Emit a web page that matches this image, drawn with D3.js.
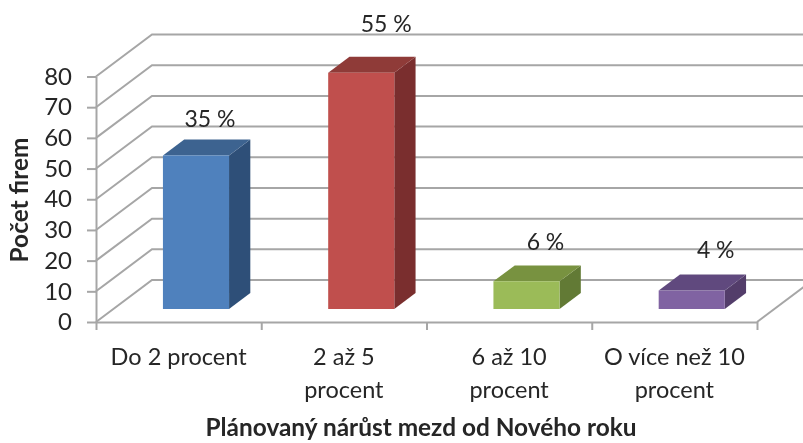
<!DOCTYPE html>
<html>
<head>
<meta charset="utf-8">
<script src="https://cdn.jsdelivr.net/npm/d3@7"></script>
<style>
    html, body { margin: 0; background: #fff; }
    text { font-family: Lato, "Open Sans", sans-serif; fill: #262626; }
</style>
</head>
<body>
<div class="chart"></div>
<script>
const categories = ["Do 2 procent", "2 až 5 procent", "6 až 10 procent", "O více než 10 procent"];
const categoryLines = [["Do 2 procent"], ["2 až 5", "procent"], ["6 až 10", "procent"], ["O více než 10", "procent"]];
const firms = [50, 77, 9, 6];
const shares = ["35 %", "55 %", "6 %", "4 %"];
const yTicks = [0, 10, 20, 30, 40, 50, 60, 70, 80];

const frontColors = ["#4f81bd", "#c0504d", "#9bbb59", "#8064a2"];
const topColors = ["#3d6390", "#8f3a38", "#78923f", "#614a7e"];
const sideColors = ["#2f5078", "#7a2f2e", "#627a34", "#533e6b"];

// the share labels were placed by hand in the original, so they sit unevenly
const labelNudge = [[14, -13], [25, -25], [19, -15], [24, -17]];

const width = 803,
    height = 443,
    plot = { left: 96, right: 757, top: 76.5, bottom: 322 },
    wall = { dx: 56, dy: -42 },
    barDepth = { front: 0.31, back: 0.69 },
    gray = "#a6a6a6";

const xScale = d3.scaleBand().domain(categories).range([plot.left, plot.right]).paddingInner(0.6).paddingOuter(0.3);
const xLabel = d3.scaleBand().domain(categories).range([plot.left, plot.right]);
const xEdges = d3.scaleLinear().domain([0, categories.length]).range([plot.left, plot.right]);
const yScale = d3.scaleLinear().domain([0, 80]).range([plot.bottom, plot.top]);
const depthX = d3.scaleLinear().domain([0, 1]).range([0, wall.dx]);
const depthY = d3.scaleLinear().domain([0, 1]).range([0, wall.dy]);

const svg = d3.select(".chart").append("svg")
    .attr("width", width)
    .attr("height", height)
    .style("display", "block");

// the reference is a soft upscaled picture
svg.append("defs").append("filter").attr("id", "soft")
    .append("feGaussianBlur").attr("stdDeviation", 0.45);

const root = svg.append("g").attr("filter", "url(#soft)");
const poly = d3.line();

// point in plot space: x pixel, value, depth 0..1
const pt = (x, v, z) => [x + depthX(z), yScale(v) + depthY(z)];

// walls: side wall diagonals and back wall gridlines
const grid = root.append("g")
    .attr("fill", "none")
    .attr("stroke", gray)
    .attr("stroke-width", 2);

grid.selectAll(".gridline")
    .data(yTicks)
    .join("path")
    .attr("class", "gridline")
    .attr("d", d => poly([pt(plot.left, d, 0), pt(plot.left, d, 1), pt(plot.right, d, 1)]));

grid.append("path")
    .attr("d", poly([pt(plot.right, 0, 0), pt(plot.right, 0, 1)]));

// axes
const yAxis = d3.axisLeft(yScale).tickValues(yTicks).tickSize(9).tickPadding(15).tickSizeOuter(0);
const yAxisGroup = root.append("g")
    .attr("transform", `translate(${plot.left}, 0)`)
    .call(yAxis);
yAxisGroup.select(".domain").attr("stroke", gray).attr("stroke-width", 2);
yAxisGroup.selectAll(".tick line").attr("stroke", gray).attr("stroke-width", 2);
yAxisGroup.selectAll(".tick text").attr("font-size", 24).attr("font-family", "Lato").attr("fill", "#262626");

const xAxis = d3.axisBottom(xEdges).ticks(categories.length).tickSize(8).tickSizeOuter(0).tickFormat("");
const xAxisGroup = root.append("g")
    .attr("transform", `translate(0, ${plot.bottom})`)
    .call(xAxis);
xAxisGroup.select(".domain").attr("stroke", gray).attr("stroke-width", 2);
xAxisGroup.selectAll(".tick line").attr("stroke", gray).attr("stroke-width", 2);

// bars
const bars = root.selectAll(".bar")
    .data(firms)
    .join("g")
    .attr("class", "bar");

const x0 = i => xScale(categories[i]);
const x1 = i => xScale(categories[i]) + xScale.bandwidth();

bars.append("path")
    .attr("fill", (d, i) => sideColors[i])
    .attr("d", (d, i) => poly([
        pt(x1(i), 0, barDepth.front), pt(x1(i), 0, barDepth.back),
        pt(x1(i), d, barDepth.back), pt(x1(i), d, barDepth.front)
    ]));

bars.append("path")
    .attr("fill", (d, i) => topColors[i])
    .attr("d", (d, i) => poly([
        pt(x0(i), d, barDepth.front), pt(x0(i), d, barDepth.back),
        pt(x1(i), d, barDepth.back), pt(x1(i), d, barDepth.front)
    ]));

bars.append("path")
    .attr("fill", (d, i) => frontColors[i])
    .attr("d", (d, i) => poly([
        pt(x0(i), 0, barDepth.front), pt(x1(i), 0, barDepth.front),
        pt(x1(i), d, barDepth.front), pt(x0(i), d, barDepth.front)
    ]));

// share labels above the bars
bars.append("text")
    .attr("font-size", 23)
    .attr("text-anchor", "middle")
    .attr("x", (d, i) => pt(x0(i) + xScale.bandwidth() / 2, d, barDepth.front)[0] + labelNudge[i][0])
    .attr("y", (d, i) => pt(x0(i), d, barDepth.back)[1] + labelNudge[i][1])
    .text((d, i) => shares[i]);

// category labels
const catLabels = root.selectAll(".cat")
    .data(categories)
    .join("text")
    .attr("class", "cat")
    .attr("font-size", 23.5)
    .attr("text-anchor", "middle");

catLabels.selectAll("tspan")
    .data((d, i) => categoryLines[i].map(line => ({ line, cx: xLabel(d) + xLabel.bandwidth() / 2 })))
    .join("tspan")
    .attr("x", d => d.cx)
    .attr("y", (d, i) => 365 + i * 33)
    .text(d => d.line);

// axis titles
root.append("text")
    .attr("font-size", 24.4)
    .attr("font-weight", 700)
    .attr("text-anchor", "middle")
    .attr("x", 421)
    .attr("y", 436)
    .text("Plánovaný nárůst mezd od Nového roku");

root.append("text")
    .attr("font-size", 24.4)
    .attr("font-weight", 700)
    .attr("text-anchor", "middle")
    .attr("transform", "translate(28, 200) rotate(-90)")
    .text("Počet firem");
</script>
</body>
</html>
